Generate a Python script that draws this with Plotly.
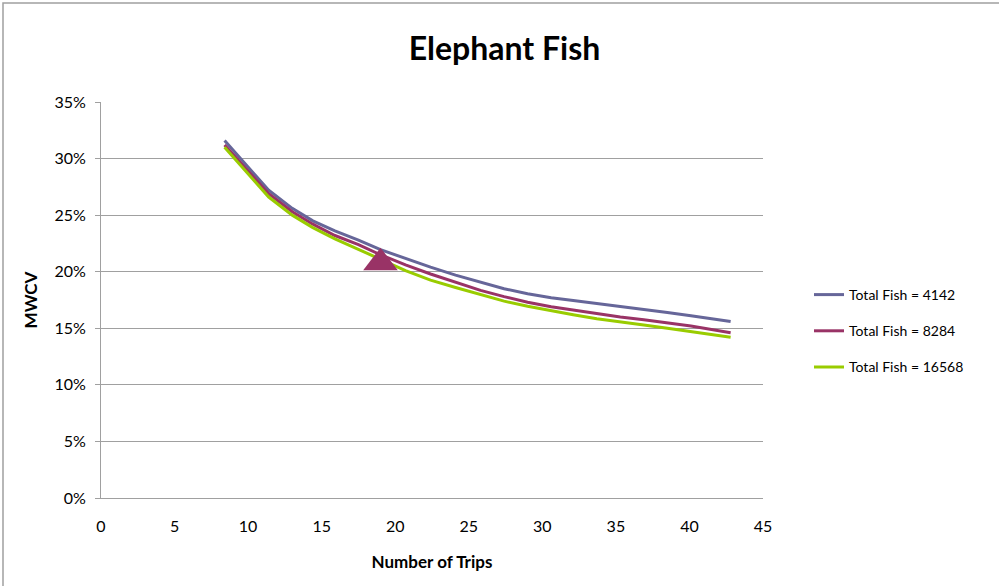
import plotly.graph_objects as go

trips = [8.4, 10.0, 11.4, 13.0, 14.4, 15.9, 17.5, 19.0, 20.7, 22.4, 24.1, 25.8,
         27.4, 29.0, 30.6, 32.1, 33.7, 35.3, 36.9, 38.5, 40.1, 41.5, 42.8]
mwcv_4142 = [31.6, 29.3, 27.2, 25.6, 24.5, 23.6, 22.8, 21.95, 21.15, 20.4, 19.7, 19.05,
             18.5, 18.05, 17.7, 17.45, 17.2, 16.9, 16.65, 16.4, 16.1, 15.85, 15.6]
mwcv_8284 = [31.2, 28.9, 26.9, 25.3, 24.2, 23.2, 22.4, 21.5, 20.6, 19.8, 19.1, 18.35,
             17.8, 17.3, 16.9, 16.6, 16.3, 16.0, 15.75, 15.5, 15.2, 14.9, 14.6]
mwcv_16568 = [31.0, 28.6, 26.6, 25.0, 23.9, 22.9, 22.0, 21.1, 20.1, 19.25, 18.6, 17.95,
              17.4, 16.95, 16.55, 16.2, 15.85, 15.6, 15.3, 15.0, 14.7, 14.45, 14.2]
series_names = ["Total Fish = 4142", "Total Fish = 8284", "Total Fish = 16568"]
series_colors = ["#666699", "#993366", "#99CC00"]
marker_x = [19.0]
marker_y = [20.8]

x_ticks = [0, 5, 10, 15, 20, 25, 30, 35, 40, 45]
y_ticks = [0, 0.05, 0.10, 0.15, 0.20, 0.25, 0.30, 0.35]

FONT = "Lato, 'Open Sans', sans-serif"

fig = go.Figure()
for name, vals, col in zip(series_names, [mwcv_4142, mwcv_8284, mwcv_16568], series_colors):
    fig.add_trace(go.Scatter(
        x=trips, y=[v / 100 for v in vals], mode="lines", name=name,
        legendgroup=name, line=dict(color=col, width=3)))

fig.add_trace(go.Scatter(
    x=marker_x, y=[v / 100 for v in marker_y], mode="markers", showlegend=False,
    marker=dict(symbol="triangle-up", size=30, color="#993366")))

L, R, T, B = 101, 236, 102, 88
W, H = 999, 586
pw, ph = W - L - R, H - T - B

fig.update_layout(
    width=W, height=H,
    margin=dict(l=L, r=R, t=T, b=B),
    paper_bgcolor="white", plot_bgcolor="white",
    font=dict(family=FONT, size=15, color="black"),
    title=dict(text="<b>Elephant Fish</b>", x=0.505, xref="container",
               y=1 - 49 / H, yref="container", xanchor="center", yanchor="middle",
               font=dict(size=32, family=FONT, color="black")),
    xaxis=dict(range=[0, 45], tickvals=x_ticks, showgrid=False, zeroline=False,
               showline=True, linecolor="#A0A0A0", linewidth=1,
               ticks="outside", ticklen=14, tickcolor="rgba(0,0,0,0)",
               title=dict(text="<b>Number of Trips</b>", standoff=21,
                          font=dict(size=17)),
               tickfont=dict(size=16)),
    yaxis=dict(range=[0, 0.35], tickvals=y_ticks, tickformat=".0%",
               showgrid=True, gridcolor="#A0A0A0", gridwidth=1, zeroline=False,
               showline=True, linecolor="#A0A0A0", linewidth=1,
               ticks="outside", ticklen=5, tickcolor="#A0A0A0",
               ticklabelstandoff=6,
               title=dict(text="<b>MWCV</b>", standoff=12, font=dict(size=17)),
               tickfont=dict(size=16)),
    legend=dict(x=(809 - L) / pw, xanchor="left", y=(H - B - 331) / ph,
                yanchor="middle", tracegroupgap=15, traceorder="grouped",
                font=dict(size=14), bgcolor="rgba(0,0,0,0)"),
    shapes=[dict(type="rect", xref="paper", yref="paper",
                 x0=(3 - L) / pw, x1=(W + 20 - L) / pw,
                 y0=-(B + 20) / ph, y1=(H - B - 3) / ph,
                 line=dict(color="#A0A0A0", width=1.5), fillcolor="rgba(0,0,0,0)",
                 layer="below")],
)

fig.write_html("out.html")
